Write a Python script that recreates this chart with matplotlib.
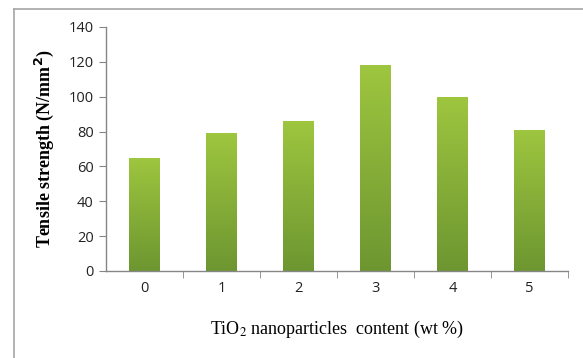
import numpy as np
import matplotlib.pyplot as plt
from matplotlib.colors import LinearSegmentedColormap
from matplotlib.lines import Line2D

# TiO2 content (wt %) and measured tensile strength
content = ['0', '1', '2', '3', '4', '5']
strength = [65, 79, 86, 118, 100, 81]

fig = plt.figure(figsize=(5.83, 3.58), dpi=100)
fig.patch.set_facecolor('white')

# outer chart frame (only the top and left edges fall inside the image)
fig.add_artist(Line2D([14 / 583, 14 / 583], [0, 1 - 9 / 358], color='#a6a6a6', lw=1.2))
fig.add_artist(Line2D([14 / 583, 1], [1 - 9 / 358, 1 - 9 / 358], color='#a6a6a6', lw=1.2))

ax = fig.add_axes([106 / 583, 1 - 271 / 358, 462 / 583, 244 / 358])
x = np.arange(len(content))
bars = ax.bar(x, strength, width=0.4, color='none', edgecolor='none')

# vertical green gradient inside each bar
cmap = LinearSegmentedColormap.from_list('grn', ['#6d9631', '#9ec63f'])
grad = np.linspace(0, 1, 256).reshape(-1, 1)
for b in bars:
    x0, w, h = b.get_x(), b.get_width(), b.get_height()
    im = ax.imshow(grad, cmap=cmap, origin='lower', aspect='auto',
                   extent=[x0, x0 + w, 0, h], zorder=2)
    im.set_clip_path(b)

ax.set_xlim(-0.5, len(content) - 0.5)
ax.set_ylim(0, 140)
ax.set_yticks(np.arange(0, 141, 20))
ax.set_xticks(x)
ax.set_xticklabels(content)
ax.set_xticks(np.arange(0.5, len(content), 1), minor=True)

for s in ['top', 'right']:
    ax.spines[s].set_visible(False)
for s in ['left', 'bottom']:
    ax.spines[s].set_color('#868686')
    ax.spines[s].set_linewidth(1.0)

ax.tick_params(axis='y', direction='out', length=5, color='#868686',
               labelsize=10.5, labelcolor='#222222', pad=4)
ax.tick_params(axis='x', which='major', length=0, labelsize=10.5,
               labelcolor='#222222', pad=7)
ax.tick_params(axis='x', which='minor', direction='out', length=5, color='#868686')
for lab in ax.get_xticklabels() + ax.get_yticklabels():
    lab.set_family('Open Sans')

ax.set_ylabel('Tensile strength (N/mm$^\\mathbf{2}$)', family='Liberation Serif',
              fontweight='bold', fontsize=13, labelpad=9)
fig.text(337 / 583, 1 - 329 / 358, 'TiO$_2$ nanoparticles  content (wt %)',
         family='Liberation Serif', fontsize=13, ha='center', va='center',
         math_fontfamily='stix')

fig.savefig('out.png', dpi=100, facecolor='white')
